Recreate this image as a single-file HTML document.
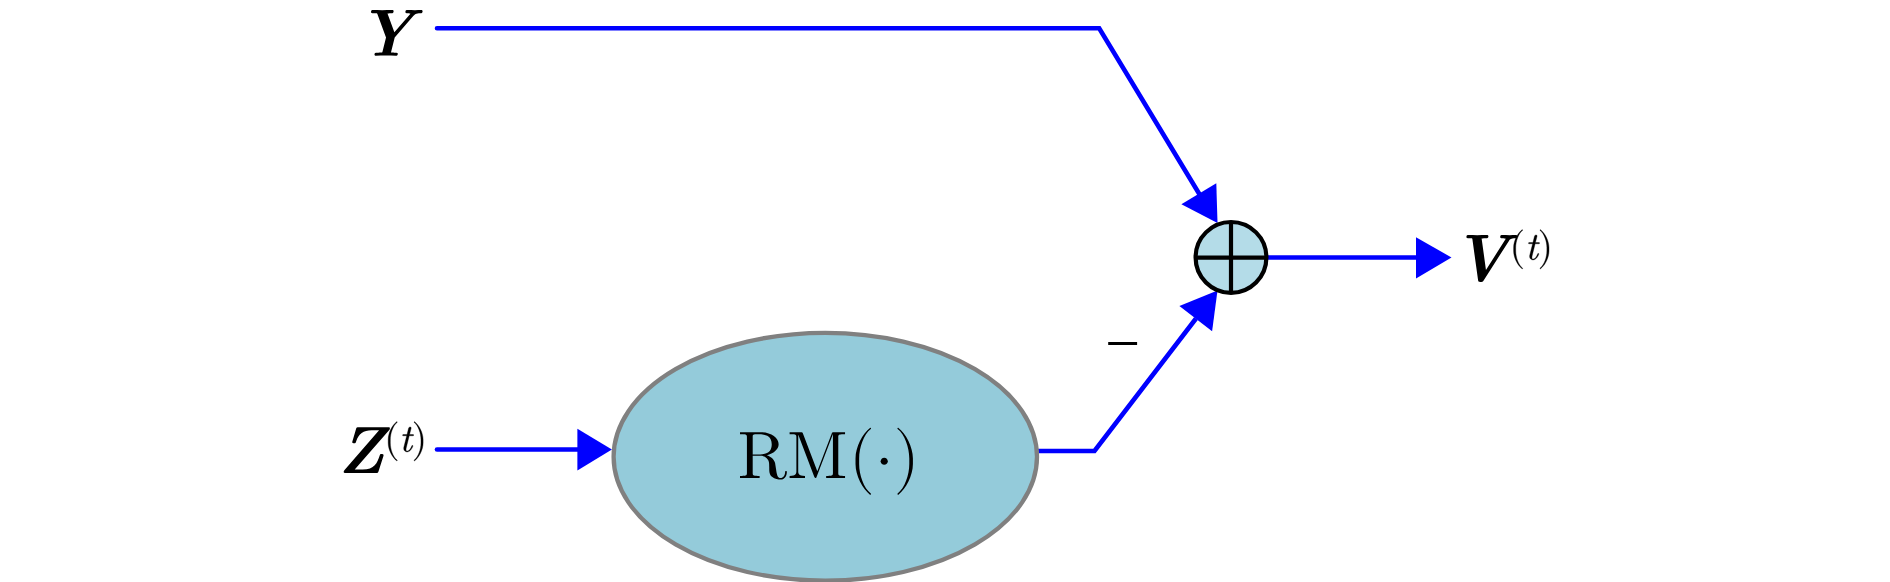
<!DOCTYPE html>
<html><head><meta charset="utf-8"><style>
html,body{margin:0;padding:0;background:#fff;width:1890px;height:582px;overflow:hidden}
svg{display:block}
</style></head><body>
<svg width="1890" height="582" viewBox="0 0 1890 582">
<g fill="none" stroke="#0000ff" stroke-width="4.6">
<polyline points="437,28.3 1099.2,28.3 1199,193.5" stroke-linecap="round" stroke-linejoin="miter"/>
<line x1="437" y1="449.5" x2="578" y2="449.5" stroke-linecap="round"/>
<line x1="1266" y1="257.5" x2="1417" y2="257.5"/>
<polyline points="1037,451 1094.5,451 1196,318.5" stroke-linejoin="miter"/>
</g>
<ellipse cx="825.3" cy="456.8" rx="211.7" ry="123.9" fill="#94cbda" stroke="#808080" stroke-width="4.3"/>
<g fill="#0000ff">
<polygon points="1216.3,183.2 1181.4,204.3 1217.5,222.9"/>
<polygon points="1416,237.2 1416,278.6 1451.5,257.5"/>
<polygon points="577.4,428.8 577.4,470.5 611.9,449.4"/>
<polygon points="1217.5,290.4 1179.4,306.1 1212.1,331.3"/>
</g>
<circle cx="1231" cy="257.4" r="35.4" fill="#b4dce8" stroke="#000" stroke-width="4.2"/>
<g stroke="#000" stroke-width="4.2">
<line x1="1231" y1="222" x2="1231" y2="292.8"/>
<line x1="1195.6" y1="257.6" x2="1266.4" y2="257.6"/>
</g>
<rect x="1108.2" y="342" width="28.9" height="3" fill="#000"/>
<g fill="#000">
<path d="M422.61 11.2C422.61 10.67 422.21 10 421.34 10C419.27 10 417.07 10.2 414.93 10.2C412.39 10.2 409.72 10 407.25 10C406.72 10 405.38 10 405.38 11.94C405.38 13.14 406.59 13.14 407.12 13.14C408.25 13.14 409.39 13.27 410.46 13.67L394.37 32.37L387.49 13.4C389.09 13.2 390.03 13.14 391.56 13.14C392.43 13.14 393.63 13.14 393.63 11.2C393.63 10.27 392.83 10 392.16 10C388.89 10 385.42 10.2 382.08 10.2C379.01 10.2 375.87 10 372.87 10C372.34 10 371 10 371 11.94C371 13.14 372.2 13.14 373.14 13.14H373.94C374.54 13.14 375.54 13.14 376.14 13.2C377.08 13.34 377.14 13.4 377.48 14.21L386.02 37.51L382.55 51.39C382.28 52.33 382.22 52.4 380.95 52.6C380.21 52.66 379.01 52.66 378.28 52.66H376.81C375.67 52.66 374.47 52.66 374.47 54.6C374.47 55.47 375.21 55.8 375.94 55.8C379.15 55.8 382.55 55.6 385.82 55.6C389.16 55.6 392.63 55.8 395.9 55.8C396.57 55.8 397.84 55.8 397.84 53.86C397.84 52.66 396.7 52.66 395.7 52.66H394.23C393.5 52.66 391.76 52.6 390.96 52.53L394.7 37.51L413.46 15.81C414.66 14.41 415.73 13.2 420.61 13.14C421.41 13.14 422.61 13.14 422.61 11.2Z"/>
<path d="M1517.21 236.2C1517.21 235.67 1516.81 235 1515.94 235C1513.94 235 1511.73 235.2 1509.66 235.2C1507.13 235.2 1504.46 235 1501.99 235C1501.52 235 1500.18 235 1500.18 236.94C1500.18 238.14 1501.32 238.14 1501.92 238.14C1502.12 238.14 1504.19 238.2 1505.79 238.81L1485.96 269.92L1481.62 238.47C1482.89 238.2 1484.96 238.14 1485.96 238.14C1487.3 238.14 1488.43 238.14 1488.43 236.2C1488.43 235.33 1487.7 235 1486.96 235C1483.76 235 1480.42 235.2 1477.15 235.2C1474.21 235.2 1471.14 235 1468.27 235C1467.74 235 1466.4 235 1466.4 236.94C1466.4 238.14 1467.6 238.14 1468.54 238.14H1469.27C1469.94 238.14 1470.67 238.14 1471.34 238.2C1472.21 238.34 1472.28 238.34 1472.41 239.34L1478.02 279.87C1478.28 281.6 1478.28 281.93 1480.49 281.93C1481.96 281.93 1482.62 281.93 1483.63 280.4L1509.06 240.67C1509.46 240.07 1509.53 240.01 1509.66 239.87C1510.8 238.2 1514.07 238.14 1515.14 238.14C1516.01 238.14 1517.21 238.14 1517.21 236.2Z"/>
<path d="M383.36 456.24C383.42 456.04 383.56 455.44 383.56 455.24C383.56 454.04 382.36 454.04 381.69 454.04C380.22 454.04 380.15 454.17 379.62 455.71C377.35 462.65 374.54 469.6 362.59 469.6H354.72L389.03 430.34C389.57 429.74 389.9 428.94 389.9 428.13C389.9 427.2 389.1 427.2 388.1 427.2H358.45C357.12 427.2 356.59 427.2 356.18 428.54L352.51 440.89C352.45 441.02 352.18 442.09 352.18 442.09C352.18 443.29 353.38 443.29 354.05 443.29C355.52 443.29 355.58 443.16 356.12 441.62C358.72 433.88 363.33 430.34 371.67 430.34H379.08L344.77 469.66C344.3 470.2 343.7 470.86 343.7 472.07C343.7 473 344.43 473 345.57 473H376.21C377.62 473 378.02 473 378.48 471.6Z"/>
<path d="M786.84 472.19C786.84 471.78 786.84 471.04 785.97 471.04C785.23 471.04 785.23 471.65 785.16 472.12C784.76 476.89 782.41 478.1 780.73 478.1C777.43 478.1 776.89 474.67 775.95 468.42L775.08 463.05C773.87 458.75 770.58 456.53 766.88 455.25C773.4 453.64 778.64 449.54 778.64 444.3C778.64 437.85 770.98 432.2 761.1 432.2H740V434.28H741.61C746.79 434.28 746.92 435.02 746.92 437.44V472.86C746.92 475.28 746.79 476.02 741.61 476.02H740V478.1C742.42 477.9 747.19 477.9 749.81 477.9C752.43 477.9 757.2 477.9 759.62 478.1V476.02H758.01C752.84 476.02 752.7 475.28 752.7 472.86V455.86H760.43C761.51 455.86 764.33 455.86 766.68 458.14C769.23 460.56 769.23 462.64 769.23 467.15C769.23 471.51 769.23 474.2 771.99 476.76C774.74 479.18 778.44 479.58 780.46 479.58C785.7 479.58 786.84 474.07 786.84 472.19ZM771.72 444.3C771.72 448.93 770.11 454.38 760.16 454.38H752.7V436.97C752.7 435.43 752.7 434.62 754.18 434.42C754.85 434.28 756.8 434.28 758.14 434.28C764.19 434.28 771.72 434.55 771.72 444.3Z"/>
<path d="M845.05 478.1V476.02H843.47C838.4 476.02 838.27 475.28 838.27 472.86V437.44C838.27 435.02 838.4 434.28 843.47 434.28H845.05V432.2H833.92C832.21 432.2 832.21 432.27 831.75 433.48L817.32 471.31L803.03 433.68C802.44 432.2 802.24 432.2 800.73 432.2H789.6V434.28H791.18C796.25 434.28 796.38 435.02 796.38 437.44V471.04C796.38 472.86 796.38 476.02 789.6 476.02V478.1L797.3 477.9L805.01 478.1V476.02C798.22 476.02 798.22 472.86 798.22 471.04V434.82H798.29L814.16 476.62C814.49 477.5 814.82 478.1 815.48 478.1C816.2 478.1 816.4 477.56 816.66 476.82L832.87 434.28H832.93V472.86C832.93 475.28 832.8 476.02 827.73 476.02H826.15V478.1C828.58 477.9 833.06 477.9 835.63 477.9C838.2 477.9 842.61 477.9 845.05 478.1Z"/>
<path d="M871.05 494.09C871.05 493.89 870.91 493.69 870.78 493.56C863.79 488.31 859.15 474.87 859.15 464.12V458.48C859.15 447.72 863.79 434.28 870.78 429.04C870.91 428.91 871.05 428.71 871.05 428.5C871.05 428.17 870.71 427.83 870.37 427.83C870.24 427.83 870.11 427.9 869.97 427.97C862.58 433.54 855.52 446.98 855.52 458.48V464.12C855.52 475.61 862.58 489.05 869.97 494.63C870.11 494.7 870.24 494.77 870.37 494.77C870.71 494.77 871.05 494.43 871.05 494.09Z"/>
<path d="M887.78 461.3C887.78 459.35 886.17 457.74 884.22 457.74C882.27 457.74 880.66 459.35 880.66 461.3C880.66 463.25 882.27 464.86 884.22 464.86C886.17 464.86 887.78 463.25 887.78 461.3Z"/>
<path d="M912.91 464.12V458.48C912.91 446.98 905.86 433.54 898.47 427.97C898.33 427.9 898.2 427.83 898.06 427.83C897.73 427.83 897.39 428.17 897.39 428.5C897.39 428.71 897.53 428.91 897.66 429.04C904.65 434.28 909.29 447.72 909.29 458.48V464.12C909.29 474.87 904.65 488.31 897.66 493.56C897.53 493.69 897.39 493.89 897.39 494.09C897.39 494.43 897.73 494.77 898.06 494.77C898.2 494.77 898.33 494.7 898.47 494.63C905.86 489.05 912.91 475.61 912.91 464.12Z"/>
</g>
<g fill="#000" stroke="#000" stroke-width="0.35">
<path d="M1522.67 268.41C1522.67 268.29 1522.59 268.17 1522.51 268.09C1518.43 265.03 1515.72 257.18 1515.72 250.9V247.6C1515.72 241.32 1518.43 233.47 1522.51 230.41C1522.59 230.33 1522.67 230.21 1522.67 230.09C1522.67 229.9 1522.47 229.7 1522.28 229.7C1522.2 229.7 1522.12 229.74 1522.04 229.78C1517.72 233.04 1513.6 240.89 1513.6 247.6V250.9C1513.6 257.61 1517.72 265.46 1522.04 268.72C1522.12 268.76 1522.2 268.8 1522.28 268.8C1522.47 268.8 1522.67 268.6 1522.67 268.41Z"/>
<path d="M1538.9 253.86C1538.9 253.47 1538.59 253.47 1538.31 253.47C1537.84 253.47 1537.84 253.51 1537.53 254.21C1536.82 256.1 1535.25 259.04 1533.01 259.04C1531.95 259.04 1531.95 258.06 1531.95 257.43C1531.95 257.16 1531.95 256.53 1532.23 255.43L1535.13 243.77H1538.47C1539.14 243.77 1539.57 243.77 1539.57 243.03C1539.57 242.56 1539.22 242.56 1538.59 242.56H1535.45L1536.9 236.75C1537.06 236.2 1537.06 236.12 1537.06 235.92C1537.06 235.1 1536.39 234.9 1536 234.9C1535.02 234.9 1534.62 235.72 1534.47 236.31L1532.94 242.56H1529.6C1528.93 242.56 1528.5 242.56 1528.5 243.3C1528.5 243.77 1528.85 243.77 1529.48 243.77H1532.62L1529.8 255.04C1529.76 255.2 1529.6 255.82 1529.6 256.37C1529.6 258.34 1530.89 259.91 1532.94 259.91C1536.9 259.91 1538.9 254.06 1538.9 253.86Z"/>
<path d="M1549 250.9V247.6C1549 240.89 1544.88 233.04 1540.56 229.78C1540.48 229.74 1540.4 229.7 1540.32 229.7C1540.13 229.7 1539.93 229.9 1539.93 230.09C1539.93 230.21 1540.01 230.33 1540.09 230.41C1544.17 233.47 1546.88 241.32 1546.88 247.6V250.9C1546.88 257.18 1544.17 265.03 1540.09 268.09C1540.01 268.17 1539.93 268.29 1539.93 268.41C1539.93 268.6 1540.13 268.8 1540.32 268.8C1540.4 268.8 1540.48 268.76 1540.56 268.72C1544.88 265.46 1549 257.61 1549 250.9Z"/>
<path d="M397.27 460.41C397.27 460.29 397.19 460.17 397.11 460.09C393.03 457.03 390.32 449.18 390.32 442.9V439.6C390.32 433.32 393.03 425.47 397.11 422.41C397.19 422.33 397.27 422.21 397.27 422.09C397.27 421.9 397.07 421.7 396.88 421.7C396.8 421.7 396.72 421.74 396.64 421.78C392.32 425.04 388.2 432.89 388.2 439.6V442.9C388.2 449.61 392.32 457.46 396.64 460.72C396.72 460.76 396.8 460.8 396.88 460.8C397.07 460.8 397.27 460.6 397.27 460.41Z"/>
<path d="M413 445.86C413 445.47 412.69 445.47 412.41 445.47C411.94 445.47 411.94 445.51 411.63 446.21C410.92 448.1 409.35 451.04 407.11 451.04C406.05 451.04 406.05 450.06 406.05 449.43C406.05 449.16 406.05 448.53 406.33 447.43L409.23 435.77H412.57C413.24 435.77 413.67 435.77 413.67 435.03C413.67 434.56 413.32 434.56 412.69 434.56H409.55L411 428.75C411.16 428.2 411.16 428.12 411.16 427.92C411.16 427.1 410.49 426.9 410.1 426.9C409.12 426.9 408.72 427.72 408.57 428.31L407.04 434.56H403.7C403.03 434.56 402.6 434.56 402.6 435.3C402.6 435.77 402.95 435.77 403.58 435.77H406.72L403.9 447.04C403.86 447.2 403.7 447.82 403.7 448.37C403.7 450.34 404.99 451.91 407.04 451.91C411 451.91 413 446.06 413 445.86Z"/>
<path d="M423.1 442.9V439.6C423.1 432.89 418.98 425.04 414.66 421.78C414.58 421.74 414.5 421.7 414.42 421.7C414.23 421.7 414.03 421.9 414.03 422.09C414.03 422.21 414.11 422.33 414.19 422.41C418.27 425.47 420.98 433.32 420.98 439.6V442.9C420.98 449.18 418.27 457.03 414.19 460.09C414.11 460.17 414.03 460.29 414.03 460.41C414.03 460.6 414.23 460.8 414.42 460.8C414.5 460.8 414.58 460.76 414.66 460.72C418.98 457.46 423.1 449.61 423.1 442.9Z"/>
</g>
</svg>
</body></html>
